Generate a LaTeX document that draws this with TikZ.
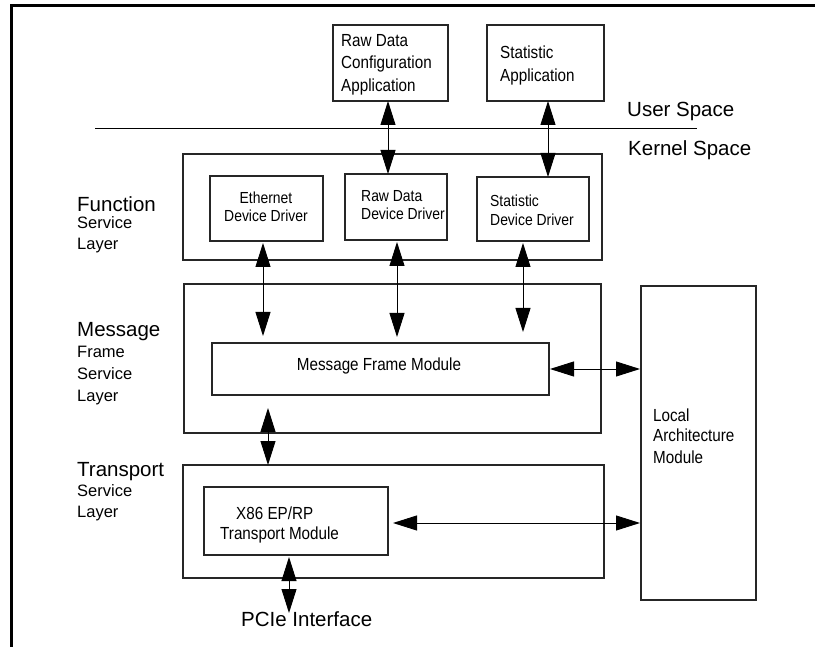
\documentclass[tikz,border=0pt]{standalone}
\usepackage{fontspec}
\setmainfont{Liberation Sans}
\newfontfamily\narrowfont{Liberation Sans}[FakeStretch=0.87]
\usetikzlibrary{arrows.meta,calc}
\newcommand\pbox[5]{\node[box, minimum width={(#4-#2)*1pt}, minimum height={(#5-#3)*1pt}] (#1) at ({(#2+#4)/2},{(#3+#5)/2}) {};}
\begin{document}
\begin{tikzpicture}[x=1pt,y=-1pt,
  box/.style={draw=black!85, line width=1.1pt, inner sep=0pt, outer sep=0pt},
  dar/.style={{Triangle[length=24pt,width=15pt]}-{Triangle[length=24pt,width=15pt]}, line width=0.9pt, draw=black},
  biglbl/.style={inner sep=0pt, anchor=base west, font=\fontsize{20.5}{24}\selectfont},
  midlbl/.style={inner sep=0pt, anchor=base west, font=\fontsize{16.5}{20}\selectfont},
  modtxt/.style={inner sep=0pt, anchor=base west, font=\narrowfont\fontsize{17.5}{21}\selectfont},
  ddtxt/.style={inner sep=0pt, anchor=base west, font=\narrowfont\fontsize{16}{19}\selectfont}]
\useasboundingbox (0,0) rectangle (815,647);
% frame
\draw[line width=3pt] (11,647) -- (11,5.5) -- (815,5.5);
% separator
\draw[line width=1pt] (95,129) -- (697,129);
% boxes
\pbox{rdapp}{333}{25}{448}{101}
\pbox{stapp}{487}{25}{604}{101}
\pbox{fsl}{183}{154}{602}{260}
\pbox{ethdd}{210}{176}{323}{241}
\pbox{rddd}{345}{174}{447}{240}
\pbox{stdd}{477}{177}{589}{241}
\pbox{msl}{184}{284}{601}{433}
\pbox{mfm}{212}{343}{549}{395}
\pbox{lam}{641}{286}{756}{600}
\pbox{tsl}{183}{465}{604}{578}
\pbox{xeb}{204}{487}{388}{555}
% texts in application boxes
\node[modtxt] (rda1) at (341,47) {Raw Data};
\node[modtxt] (rda2) at (341,69) {Configuration};
\node[modtxt] (rda3) at (341,92) {Application};
\node[modtxt] (sta1) at (500,59) {Statistic};
\node[modtxt] (sta2) at (500,82) {Application};
% space labels
\node[biglbl] (us) at (627,117) {User Space};
\node[biglbl] (ks) at (628,156) {Kernel Space};
% layer labels
\node[biglbl] (f1) at (77,212) {Function};
\node[midlbl] (f2) at (77,229) {Service};
\node[midlbl] (f3) at (77,250) {Layer};
\node[biglbl] (m1) at (77,337) {Message};
\node[midlbl] (m2) at (77,358) {Frame};
\node[midlbl] (m3) at (77,380) {Service};
\node[midlbl] (m4) at (77,402) {Layer};
\node[biglbl] (t1) at (77,476) {Transport};
\node[midlbl] (t2) at (77,496) {Service};
\node[midlbl] (t3) at (77,517) {Layer};
% device drivers
\node[ddtxt, anchor=base] (e1) at (266,204) {Ethernet};
\node[ddtxt, anchor=base] (e2) at (266,222) {Device Driver};
\node[ddtxt] (r1) at (361,202) {Raw Data};
\node[ddtxt] (r2) at (361,220) {Device Driver};
\node[ddtxt] (s1) at (490,207) {Statistic};
\node[ddtxt] (s2) at (490,226) {Device Driver};
% modules
\node[modtxt, anchor=base] (mfmt) at (379,371) {Message Frame Module};
\node[modtxt] (l1) at (653,421) {Local};
\node[modtxt] (l2) at (653,442) {Architecture};
\node[modtxt] (l3) at (653,463) {Module};
\node[modtxt] (x1) at (236,519) {X86 EP/RP};
\node[modtxt] (x2) at (220,539) {Transport Module};
\node[biglbl] (pcie) at (241,626) {PCIe Interface};
\coordinate (pcin) at (289,613);
% connectors
\draw[dar] ($(rdapp.south)+(-2.5,0)$) -- ($(rdapp.south |- rddd.north)+(-2.5,0)$);
\draw[dar] ($(stapp.south)+(2.5,0)$) -- ($(stapp.south |- stdd.north)+(2.5,0)$);
\draw[dar] ($(ethdd.south)+(-3.5,2)$) -- ($(ethdd.south |- mfm.north)+(-3.5,-7)$);
\draw[dar] ($(rddd.south)+(1,2)$) -- ($(rddd.south |- mfm.north)+(1,-6)$);
\draw[dar] ($(stdd.south)+(-10,2)$) -- ($(stdd.south |- mfm.north)+(-10,-11)$);
\draw[dar] ($(mfm.east)+(1,0)$) -- ($(mfm.east -| lam.west)+(-1,0)$);
\draw[dar] ($(msl.south west)+(84,-25)$) -- ($(msl.south west |- tsl.north)+(84,0)$);
\draw[dar] ($(xeb.east)+(5,2)$) -- ($(xeb.east -| lam.west)+(-1,2)$);
\draw[dar] ($(xeb.south)+(-7,2)$) -- (pcin);
\end{tikzpicture}
\end{document}
